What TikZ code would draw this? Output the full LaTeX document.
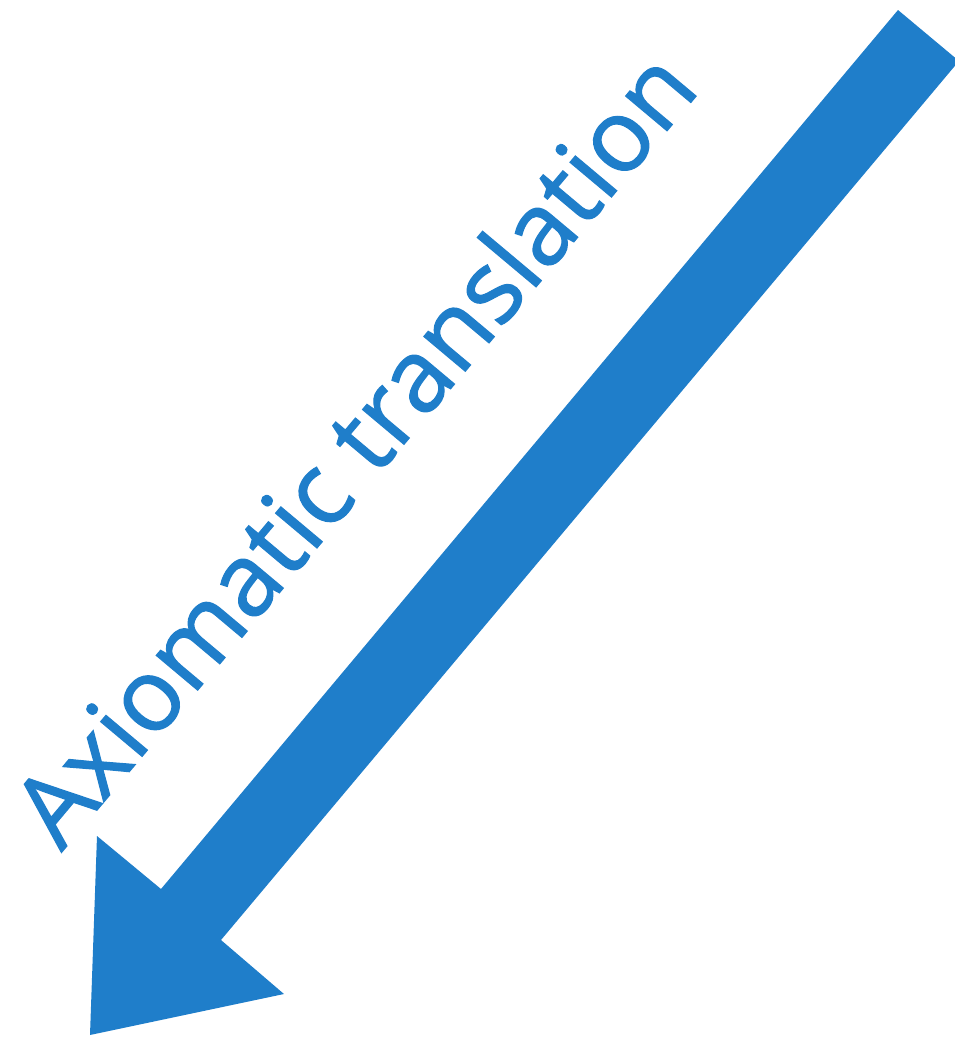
\documentclass[tikz,border=0pt]{standalone}
\usepackage{fontspec}
\setmainfont{Open Sans}
\newfontfamily\lblfont{Open Sans}[FakeBold=1.2]
\definecolor{arrowblue}{RGB}{31,126,202}
\begin{document}
\begin{tikzpicture}[x=0.01cm,y=-0.01cm]
    \useasboundingbox (0,0) rectangle (954,1039);
    \coordinate (T1) at (898,10);
    \coordinate (T2) at (959,61);
    \coordinate (L) at (161,889);
    \coordinate (R) at (221,940);
    \coordinate (BL) at (97,836);
    \coordinate (BR) at (284,994);
    \coordinate (P) at (90,1035);
    \fill[arrowblue] (T1) -- (L) -- (BL) -- (P) -- (BR) -- (R) -- (T2) -- cycle;
    \node[anchor=base west,inner sep=0,rotate=50,text=arrowblue,font=\lblfont\fontsize{28.7}{34}\selectfont] (lbl) at (61,853) {Axiomatic translation};
\end{tikzpicture}
\end{document}
